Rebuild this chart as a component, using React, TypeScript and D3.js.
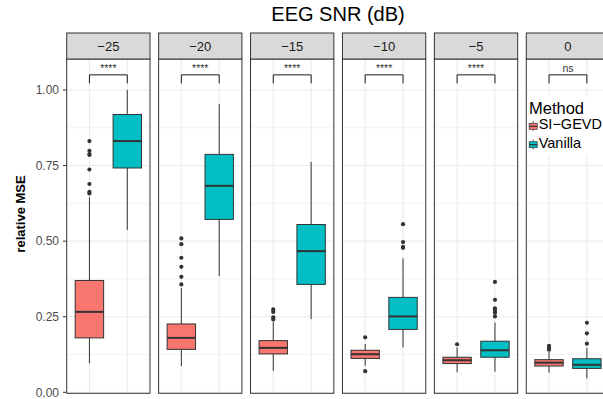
import React from "react";
import * as d3 from "d3";

// facets and groups
const snrLevels = ["−25", "−20", "−15", "−10", "−5", "0"];
const methods = ["SI−GEVD", "Vanilla"];
const sigLabels = ["****", "****", "****", "****", "****", "ns"];
const yTicks = [0, 0.25, 0.5, 0.75, 1.0];
const yMinor = [0.125, 0.375, 0.625, 0.875];

// SI-GEVD box summaries per SNR
const sigevdLow = [0.096, 0.087, 0.071, 0.088, 0.066, 0.065];
const sigevdQ1 = [0.18, 0.142, 0.127, 0.112, 0.095, 0.087];
const sigevdMed = [0.266, 0.18, 0.147, 0.126, 0.106, 0.098];
const sigevdQ3 = [0.37, 0.226, 0.171, 0.139, 0.116, 0.108];
const sigevdHigh = [0.645, 0.345, 0.233, 0.16, 0.149, 0.134];
const sigevdOut = [
  [0.831, 0.799, 0.788, 0.785, 0.737, 0.689, 0.663, 0.658],
  [0.509, 0.49, 0.445, 0.415, 0.382, 0.357],
  [0.274, 0.266, 0.248, 0.241],
  [0.182, 0.07],
  [0.159],
  [0.154, 0.147, 0.141],
];

// Vanilla box summaries per SNR
const vanillaLow = [0.537, 0.384, 0.242, 0.149, 0.068, 0.046];
const vanillaQ1 = [0.742, 0.572, 0.357, 0.208, 0.116, 0.079];
const vanillaMed = [0.831, 0.683, 0.467, 0.251, 0.139, 0.091];
const vanillaQ3 = [0.919, 0.787, 0.555, 0.314, 0.169, 0.111];
const vanillaHigh = [1.0, 0.953, 0.762, 0.443, 0.231, 0.147];
const vanillaOut = [
  [],
  [],
  [],
  [0.556, 0.497, 0.481, 0.478],
  [0.365, 0.306, 0.278, 0.27, 0.263, 0.251],
  [0.23, 0.195, 0.161],
];

const colors = ["#F8766D", "#00BFC4"];
const font = "'Liberation Sans', Arial, sans-serif";

type Box = { low: number; q1: number; med: number; q3: number; high: number; out: number[] };

const boxes: Box[][] = snrLevels.map((_, i) => [
  { low: sigevdLow[i], q1: sigevdQ1[i], med: sigevdMed[i], q3: sigevdQ3[i], high: sigevdHigh[i], out: sigevdOut[i] },
  { low: vanillaLow[i], q1: vanillaQ1[i], med: vanillaMed[i], q3: vanillaQ3[i], high: vanillaHigh[i], out: vanillaOut[i] },
]);

const App = () => {
  const width = 603;
  const height = 399;
  const stripTop = 33;
  const panelTop = 59;
  const panelBottom = 393.3;

  const facet = d3
    .scaleBand<string>()
    .domain(snrLevels)
    .range([66.7, 609.6])
    .paddingInner(0.0936);
  const pw = facet.bandwidth();

  const x = d3.scalePoint<string>().domain(methods).range([0, pw]).padding(0.6);
  const boxW = x.step() * 0.75;

  const y = d3.scaleLinear().domain([-0.0033, 1.1025]).range([panelBottom, panelTop]);

  const grid = "#ebebeb";
  const dark = "#333333";

  return (
    <svg
      width={width}
      height={height}
      style={{ position: "absolute", left: 0, top: 0, background: "#fff" }}
      fontFamily={font}
    >
      <rect width={width} height={height} fill="#fff" />
      <text x={338} y={21} textAnchor="middle" fontSize={20} fill="#000">
        EEG SNR (dB)
      </text>
      <text
        transform={`translate(25,214) rotate(-90)`}
        textAnchor="middle"
        fontSize={13}
        fontWeight="bold"
        fill="#000"
      >
        relative MSE
      </text>

      {/* y axis */}
      {yTicks.map((t) => (
        <g key={t}>
          <line x1={62.9} x2={66.7} y1={y(t)} y2={y(t)} stroke={dark} strokeWidth={1} />
          <text x={59} y={y(t)} dy="0.35em" textAnchor="end" fontSize={12} fill="#4d4d4d">
            {d3.format(".2f")(t)}
          </text>
        </g>
      ))}

      {snrLevels.map((snr, i) => {
        const px = facet(snr)!;
        return (
          <g key={snr} transform={`translate(${px},0)`}>
            <rect x={0} y={panelTop} width={pw} height={panelBottom - panelTop} fill="#fff" />
            {yMinor.map((t) => (
              <line key={"m" + t} x1={0} x2={pw} y1={y(t)} y2={y(t)} stroke={grid} strokeWidth={0.6} />
            ))}
            {yTicks.map((t) => (
              <line key={"M" + t} x1={0} x2={pw} y1={y(t)} y2={y(t)} stroke={grid} strokeWidth={1.1} />
            ))}
            {methods.map((m) => (
              <line key={"v" + m} x1={x(m)} x2={x(m)} y1={panelTop} y2={panelBottom} stroke={grid} strokeWidth={1.1} />
            ))}

            {methods.map((m, j) => {
              const b = boxes[i][j];
              const cx = x(m)!;
              return (
                <g key={m}>
                  <line x1={cx} x2={cx} y1={y(b.high)} y2={y(b.q3)} stroke={dark} strokeWidth={1} />
                  <line x1={cx} x2={cx} y1={y(b.q1)} y2={y(b.low)} stroke={dark} strokeWidth={1} />
                  <rect
                    x={cx - boxW / 2}
                    y={y(b.q3)}
                    width={boxW}
                    height={y(b.q1) - y(b.q3)}
                    fill={colors[j]}
                    stroke={dark}
                    strokeWidth={1}
                  />
                  <line x1={cx - boxW / 2} x2={cx + boxW / 2} y1={y(b.med)} y2={y(b.med)} stroke={dark} strokeWidth={2} />
                  {b.out.map((o, k) => (
                    <circle key={k} cx={cx} cy={y(o)} r={2.1} fill={dark} />
                  ))}
                </g>
              );
            })}

            {/* significance bracket */}
            <path
              d={`M${x(methods[0])},${y(1.022)}V${y(1.05)}H${x(methods[1])}V${y(1.022)}`}
              fill="none"
              stroke="#000"
              strokeWidth={0.9}
            />
            <text
              x={(x(methods[0])! + x(methods[1])!) / 2}
              y={71.5}
              textAnchor="middle"
              fontSize={10.5}
              fill="#333"
            >
              {sigLabels[i]}
            </text>

            <rect x={0} y={panelTop} width={pw} height={panelBottom - panelTop} fill="none" stroke={dark} strokeWidth={1} />
            <rect x={0} y={stripTop} width={pw} height={panelTop - stripTop} fill="#d9d9d9" stroke={dark} strokeWidth={1} />
            <text x={pw / 2} y={51} textAnchor="middle" fontSize={13} fill="#1a1a1a">
              {snr}
            </text>
          </g>
        );
      })}

      {/* legend */}
      <g>
        <rect x={527.5} y={97} width={80} height={58} fill="#fff" />
        <text x={529} y={114} fontSize={16.5} fill="#000">
          Method
        </text>
        {methods.map((m, j) => {
          const base = 129.3 + j * 18.4;
          return (
            <g key={m}>
              <line x1={533.2} x2={533.2} y1={base - 8.3} y2={base + 1.7} stroke={dark} strokeWidth={0.8} />
              <rect x={529.2} y={base - 6} width={8} height={6} fill={colors[j]} stroke={dark} strokeWidth={0.7} />
              <line x1={529.2} x2={537.2} y1={base - 3} y2={base - 3} stroke={dark} strokeWidth={1.2} />
              <text x={538.7} y={base} fontSize={14.5} fill="#000">
                {m}
              </text>
            </g>
          );
        })}
      </g>
    </svg>
  );
};

export default App;
